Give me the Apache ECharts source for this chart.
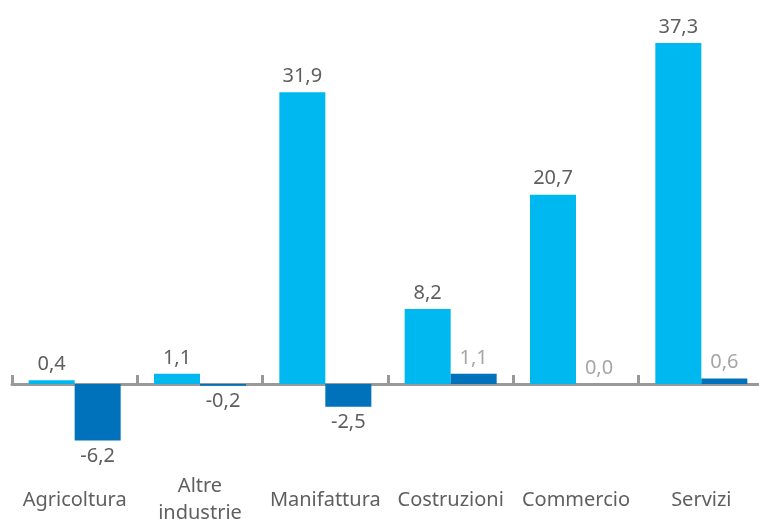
<!DOCTYPE html>
<html>
<head>
<meta charset="utf-8">
<script src="https://cdn.jsdelivr.net/npm/echarts@6/dist/echarts.min.js"></script>
<style>
  html, body { margin: 0; padding: 0; background: #fff; }
  #chart { width: 759px; height: 519px; }
</style>
</head>
<body>
<div id="chart"></div>
<script>
const categories = ['Agricoltura', 'Altre\nindustrie', 'Manifattura', 'Costruzioni', 'Commercio', 'Servizi']
const seriesA = [0.4, 1.1, 31.9, 8.2, 20.7, 37.3]
const seriesB = [-6.2, -0.2, -2.5, 1.1, 0.0, 0.6]

const fmt = v => v.toFixed(1).replace('.', ',')

// etichette: sopra se positivo, sotto se negativo
function toData(values, lightPositive) {
  return values.map(v => ({
    value: v,
    label: {
      position: v < 0 ? 'bottom' : 'top',
      color: (lightPositive && v >= 0) ? '#a6a6a6' : '#5f5f5f'
    }
  }))
}

const chart = echarts.init(document.getElementById('chart'))
chart.setOption({
  animation: false,
  grid: { left: 12, top: 0, width: 752, height: 457, outerBoundsMode: 'none', containLabel: false },
  xAxis: [
    {
      // asse sullo zero: solo linea e tacche
      type: 'category',
      data: categories,
      axisLine: { onZero: true, lineStyle: { color: '#999', width: 3 } },
      axisTick: { show: true, inside: true, length: 9, lineStyle: { color: '#999', width: 3 } },
      axisLabel: { show: false }
    },
    {
      // asse in basso: solo etichette
      type: 'category',
      data: categories,
      position: 'bottom',
      axisLine: { show: false, onZero: false },
      axisTick: { show: false },
      axisLabel: {
        margin: 43,
        verticalAlign: 'middle',
        fontFamily: 'Noto Sans',
        fontSize: 20,
        lineHeight: 27,
        color: '#5f5f5f',
        interval: 0
      }
    }
  ],
  yAxis: {
    type: 'value',
    min: -8,
    max: 42,
    show: false,
    splitLine: { show: false }
  },
  series: [
    {
      type: 'bar',
      data: toData(seriesA, false),
      barWidth: 46,
      barGap: '0%',
      itemStyle: { color: '#00b8f0' },
      label: {
        show: true,
        distance: 6,
        fontFamily: 'Noto Sans',
        fontSize: 20,
        formatter: p => fmt(p.value)
      }
    },
    {
      type: 'bar',
      data: toData(seriesB, true),
      barWidth: 46,
      barGap: '0%',
      itemStyle: { color: '#0072bc' },
      label: {
        show: true,
        distance: 6,
        fontFamily: 'Noto Sans',
        fontSize: 20,
        formatter: p => fmt(p.value)
      }
    }
  ]
})
</script>
</body>
</html>
